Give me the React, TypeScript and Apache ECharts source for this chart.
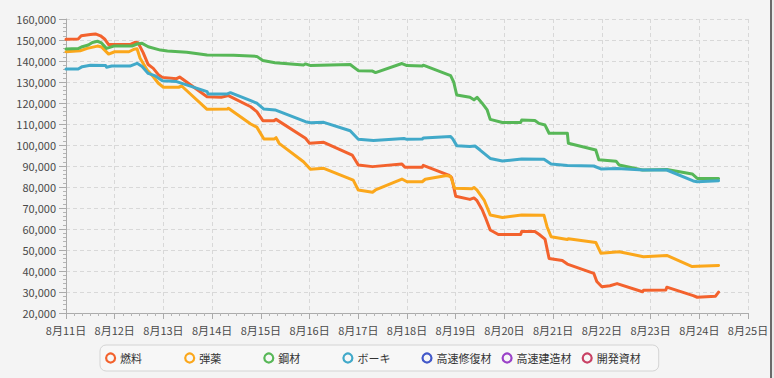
import React, { useEffect, useRef } from "react";
import * as echarts from "echarts";

// x = hours since 8月11日 00:00, y = amount
const fuel: [number, number][] = [
  [0, 150300], [6, 150500], [7.5, 152000], [12, 152600], [14.5, 152900], [17, 152000], [19, 150500],
  [21, 147800], [32, 148000], [34, 148900], [35.5, 148700], [38, 144000], [40.5, 138300], [43, 136500],
  [45.5, 133500], [47.5, 132200], [54.5, 131600], [56, 132400], [69.5, 123000], [76.5, 122700], [80, 123500],
  [91, 118200], [94, 115900], [97, 111600], [102.5, 111600], [103.5, 112200], [118, 103200], [120, 100800],
  [127, 101300], [141, 95200], [144, 90500], [151, 89700], [165.5, 91000], [167, 89400], [175.5, 89400],
  [176, 90300], [188.5, 85700], [190, 84500], [192, 75600], [199, 74100], [201, 74800], [202.5, 73500],
  [205, 69300], [206.5, 65800], [209, 59500], [213, 57400], [224, 57400], [224.5, 58800], [231, 58800],
  [233, 57500], [236, 55200], [238, 46000], [244.5, 45000], [247, 43300], [260, 38900], [261.5, 35000],
  [264, 32500], [268, 33000], [271.5, 34000], [284, 30100], [284.5, 30800], [295.5, 31000], [296, 32300],
  [309, 28300], [311, 27500], [320, 28000], [321.5, 29900],
];

const ammo: [number, number][] = [
  [0, 144400], [7, 144900], [10.5, 146000], [15.5, 147100], [17.5, 146700], [21, 143300], [24, 144400],
  [31, 144400], [33.5, 145600], [35, 145800], [36.5, 141300], [40, 135700], [43, 132500], [45.5, 129400],
  [48, 127500], [55.5, 127500], [57, 128100], [69.5, 117000], [79.5, 117100], [80, 117500], [91, 110000],
  [94, 108500], [97.5, 102900], [102.5, 102800], [103.5, 103500], [105, 100800], [117, 92000], [120.5, 88400],
  [127, 88900], [141.5, 83300], [144, 78600], [151, 77500], [152.5, 78600], [165.5, 83800], [168, 82500],
  [175.5, 82500], [177, 83700], [187.5, 85500], [189.5, 85000], [191.5, 79400], [200, 79200], [201, 79800],
  [202.5, 78500], [206, 73800], [209, 66700], [215, 65500], [224.5, 66700], [235.5, 66500], [237, 61100],
  [239, 56300], [247, 55000], [247.5, 55400], [261, 53600], [263.5, 48500], [272.5, 49200], [284.5, 46800],
  [296, 47400], [308.5, 42100], [311, 42300], [321.5, 42600],
];

const steel: [number, number][] = [
  [0, 145700], [6, 145900], [8, 146800], [11, 147600], [13, 148800], [15.5, 149400], [17.5, 148600],
  [20, 146000], [23.5, 147100], [32.5, 147100], [35, 148100], [37.5, 148400], [40.5, 146800], [46.5, 145200],
  [50, 144800], [59.5, 144200], [69.5, 142900], [82.5, 142700], [94, 142200], [97, 140200], [103, 139200],
  [117, 138100], [118, 138600], [120.5, 137800], [140, 138300], [144, 135400], [151, 135200], [152.5, 134500],
  [165.5, 138800], [168, 137800], [175.5, 137600], [176, 138000], [189.5, 133000], [191, 130000],
  [192.5, 123800], [199, 122700], [201, 121500], [202.5, 122700], [205, 119900], [207.5, 116700],
  [209, 112200], [215, 110700], [224, 110700], [224.5, 111900], [231, 111700], [233, 110300], [236, 109500],
  [238, 105600], [247, 105600], [247.5, 100800], [261, 97600], [262.5, 93000], [271, 92300], [272.5, 90500],
  [284, 88100], [296, 88300], [308.5, 86200], [311, 84100], [321.5, 84100],
];

const bauxite: [number, number][] = [
  [0, 136200], [6, 136200], [8, 137300], [12, 138000], [19.5, 137900], [20, 137000], [22.5, 137600],
  [31.5, 137600], [35, 138900], [37.5, 137400], [40.5, 134100], [44, 132900], [47.5, 130600], [54.5, 130200],
  [69.5, 125400], [70, 124300], [79.5, 124300], [81, 124900], [91, 121100], [94, 119900], [97.5, 117100],
  [103, 116700], [118, 111100], [120.5, 110600], [127, 110800], [140, 106800], [144, 102700], [151.5, 102100],
  [166.5, 103100], [168, 102700], [175.5, 102800], [176, 103300], [189.5, 104000], [190.5, 103000],
  [192.5, 99700], [199, 99300], [201.5, 99500], [204, 97600], [209, 93600], [215, 92400], [224.5, 93300],
  [235.5, 93200], [239, 91000], [247, 90200], [260, 90000], [263.5, 88600], [271.5, 88800], [284.5, 88100],
  [296, 88100], [309, 82900], [311, 82500], [321.5, 83000],
];

const seriesNames = ["燃料", "弾薬", "鋼材", "ボーキ", "高速修復材", "高速建造材", "開発資材"];
const seriesColors = ["#f3622d", "#fba71b", "#57b757", "#41a9c9", "#4258c9", "#9a42c8", "#c84164"];
const seriesData: [number, number][][] = [fuel, ammo, steel, bauxite, [], [], []];

const FONT = "'Noto Sans CJK JP', 'Noto Sans', sans-serif";

export default function App() {
  const ref = useRef<HTMLDivElement>(null);
  useEffect(() => {
    if (!ref.current) return;
    const chart = echarts.init(ref.current, null, { renderer: "svg" });
    const option: any = {
      animation: false,
      backgroundColor: "#f4f4f4",
      textStyle: { fontFamily: FONT },
      grid: { left: 66, right: 26, top: 19, bottom: 65, containLabel: false },
      xAxis: {
        type: "value",
        min: 0,
        max: 336,
        interval: 24,
        axisLine: { show: true, lineStyle: { color: "#ababab", width: 1 } },
        axisTick: { show: true, length: 6, lineStyle: { color: "#ababab" } },
        minorTick: { show: true, splitNumber: 6, length: 3, lineStyle: { color: "#b5b5b5" } },
        axisLabel: {
          color: "#4a4a4a",
          fontSize: 11,
          fontFamily: FONT,
          margin: 11,
          formatter: (v: number) => `8月${11 + Math.round(v / 24)}日`,
        },
        splitLine: { show: true, lineStyle: { color: "#d8d8d8", type: [4, 3] } },
      },
      yAxis: {
        type: "value",
        min: 20000,
        max: 160000,
        interval: 10000,
        axisLine: { show: true, lineStyle: { color: "#ababab", width: 1 } },
        axisTick: { show: true, length: 7, lineStyle: { color: "#ababab" } },
        minorTick: { show: true, splitNumber: 5, length: 3, lineStyle: { color: "#b5b5b5" } },
        axisLabel: {
          color: "#4a4a4a",
          fontSize: 11,
          fontFamily: FONT,
          margin: 10,
          formatter: (v: number) => v.toLocaleString("en-US"),
        },
        splitLine: { show: true, lineStyle: { color: "#d8d8d8", type: [4, 3] } },
      },
      legend: {
        left: 100,
        top: 345,
        orient: "horizontal",
        icon: "circle",
        itemWidth: 9,
        itemHeight: 9,
        itemGap: 10,
        padding: [6, 8, 6, 5],
        backgroundColor: "#f7f7f7",
        borderColor: "#d4d4d4",
        borderWidth: 1,
        borderRadius: 6,
        selectedMode: false,
        textStyle: { fontSize: 11, color: "#333", fontFamily: FONT, width: 54, lineHeight: 14, overflow: "none" },
        data: seriesNames.map((n, i) => ({
          name: n,
          itemStyle: { color: "#f7f7f7", borderColor: seriesColors[i], borderWidth: 2.2 },
        })),
      },
      series: seriesNames.map((n, i) => ({
        name: n,
        type: "line",
        data: seriesData[i],
        symbol: "none",
        showSymbol: false,
        color: seriesColors[i],
        itemStyle: { color: seriesColors[i] },
        lineStyle: { width: 3, color: seriesColors[i], cap: "round", join: "round" },
      })),
      graphic: [
        { type: "rect", left: 770, top: 0, shape: { width: 2, height: 378 }, style: { fill: "#6a6a6a" }, silent: true },
        { type: "rect", left: 772, top: 0, shape: { width: 2, height: 378 }, style: { fill: "#e9e9e9" }, silent: true },
      ],
    };
    chart.setOption(option);
    return () => chart.dispose();
  }, []);
  return (
    <div
      ref={ref}
      style={{ position: "fixed", left: 0, top: 0, width: 774, height: 378 }}
    />
  );
}
